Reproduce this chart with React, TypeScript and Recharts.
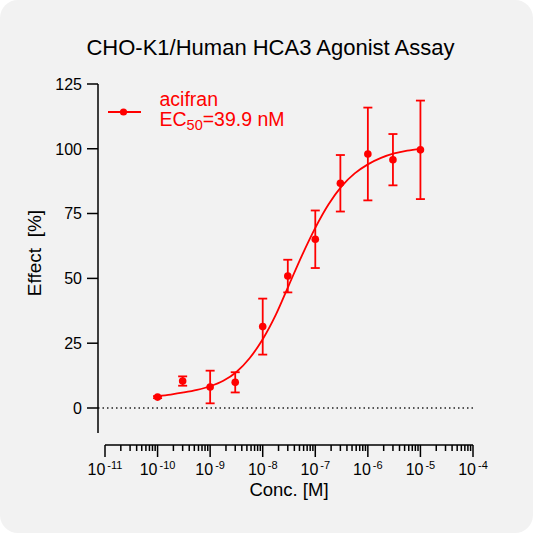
import React from 'react';
import { ComposedChart, Line, Scatter, XAxis, YAxis, ErrorBar, ReferenceLine, Legend } from 'recharts';

const RED = '#ff0000';
const INK = '#000000';
const FONT = '"Liberation Sans", Arial, Helvetica, sans-serif';

// measured points (mean ± SD)
const doseConc = [1e-10, 3e-10, 1e-9, 3e-9, 1e-8, 3e-8, 1e-7, 3e-7, 1e-6, 3e-6, 1e-5];
const doseEffect = [4.2, 10.4, 8.1, 9.9, 31.4, 50.9, 65.1, 86.7, 98.0, 95.8, 99.6];
const doseSd = [0.4, 1.8, 6.3, 3.9, 10.8, 6.3, 11.1, 10.9, 17.9, 9.9, 19.0];

// fitted curve at quarter-decade steps
const fitConc = [
  1e-10, 1.78e-10, 3.16e-10, 5.62e-10, 1e-9, 1.78e-9, 3.16e-9, 5.62e-9, 1e-8, 1.78e-8, 3.16e-8,
  5.62e-8, 1e-7, 1.78e-7, 3.16e-7, 5.62e-7, 1e-6, 1.78e-6, 3.16e-6, 5.62e-6, 1e-5,
];
const fitEffect = [
  4.6, 5.2, 6.0, 7.0, 8.4, 10.5, 13.9, 19.2, 26.5, 36.0, 47.5,
  59.0, 69.5, 78.5, 85.5, 90.5, 94.0, 96.5, 98.2, 99.3, 100.0,
];

const xMajor = [1e-11, 1e-10, 1e-9, 1e-8, 1e-7, 1e-6, 1e-5, 1e-4];
const xMajorExp = ['-11', '-10', '-9', '-8', '-7', '-6', '-5', '-4'];
const xMinorSteps = [2, 3, 4, 5, 6, 7, 8, 9];
const yTicks = [0, 25, 50, 75, 100, 125];

const seriesName = 'acifran';
const ec50Text = '=39.9 nM';

const points = doseConc.map((conc, i) => ({ conc, effect: doseEffect[i], sd: doseSd[i] }));
const fit = fitConc.map((conc, i) => ({ conc, effect: fitEffect[i] }));

const xTicks = [
  ...xMajor,
  ...xMajor.slice(0, -1).flatMap((m) => xMinorSteps.map((s) => s * m)),
].sort((a, b) => a - b);

function majorIndex(v: number) {
  return xMajor.findIndex((m) => Math.abs(v - m) / m < 1e-6);
}

function XTick(props: any) {
  const { x, y, payload } = props;
  const idx = majorIndex(payload.value);
  const major = idx >= 0;
  return (
    <g>
      <line x1={x} x2={x} y1={y} y2={y + (major ? 12 : 6)} stroke={INK} strokeWidth={1.5} />
      {major && (
        <text x={x} y={y + 30} textAnchor="middle" fontFamily={FONT} fill={INK}>
          <tspan fontSize={16}>10</tspan>
          <tspan fontSize={11} dx={2} dy={-6}>{xMajorExp[idx]}</tspan>
        </text>
      )}
    </g>
  );
}

function YTick(props: any) {
  const { x, y, payload } = props;
  return (
    <g>
      <line x1={x - 11} x2={x} y1={y} y2={y} stroke={INK} strokeWidth={1.5} />
      <text x={x - 16} y={y} dy="0.36em" textAnchor="end" fontSize={16} fontFamily={FONT} fill={INK}>
        {payload.value}
      </text>
    </g>
  );
}

function XTitle(props: any) {
  const vb = props.viewBox;
  return (
    <text x={vb.x + 7 + (vb.width - 7) / 2} y={vb.y + 51} textAnchor="middle" fontSize={18.5} fontFamily={FONT} fill={INK}>
      Conc. [M]
    </text>
  );
}

function YTitle(props: any) {
  const vb = props.viewBox;
  const cx = vb.x + 3;
  const cy = vb.y + 169;
  return (
    <text
      x={cx}
      y={cy}
      transform={`rotate(-90 ${cx} ${cy})`}
      textAnchor="middle"
      fontSize={19}
      fontFamily={FONT}
      fill={INK}
      style={{ whiteSpace: 'pre' }}
    >
      {'Effect  [%]'}
    </text>
  );
}

function LegendBox() {
  return (
    <svg width={220} height={50} style={{ display: 'block' }}>
      <line x1={8} x2={41} y1={27} y2={27} stroke={RED} strokeWidth={2} />
      <circle cx={23.5} cy={27} r={3.6} fill={RED} />
      <text x={59.5} y={20.5} fontSize={19.5} fontFamily={FONT} fill={RED}>
        {seriesName}
      </text>
      <text x={59.5} y={40.5} fontSize={19.5} fontFamily={FONT} fill={RED}>
        EC
        <tspan fontSize={14.5} dy={4.5}>50</tspan>
        <tspan dy={-4.5}>{ec50Text}</tspan>
      </text>
    </svg>
  );
}

export default function App() {
  return (
    <div style={{ position: 'absolute', left: 0, top: 0, width: 533, height: 533, background: '#ffffff' }}>
      <div
        style={{
          position: 'relative',
          width: 533,
          height: 533,
          borderRadius: 18,
          background: '#f2f2f2',
          overflow: 'hidden',
        }}
      >
        <div
          style={{
            position: 'absolute',
            left: 0,
            top: 37,
            width: 541,
            textAlign: 'center',
            fontFamily: FONT,
            fontSize: 22,
            lineHeight: 1,
            color: INK,
            zIndex: 2,
          }}
        >
          CHO-K1/Human HCA3 Agonist Assay
        </div>
        <ComposedChart width={533} height={533} margin={{ top: 84, right: 60, bottom: 28, left: 38 }}>
          <XAxis
            dataKey="conc"
            type="number"
            scale="log"
            domain={[1e-11, 1e-4]}
            allowDataOverflow
            ticks={xTicks}
            interval={0}
            padding={{ left: 7, right: 0 }}
            height={60}
            tickSize={0}
            tickMargin={0}
            tickLine={false}
            axisLine={{ stroke: INK, strokeWidth: 1.5, strokeDasharray: '0 7 368 1000' }}
            tick={(p: any) => <XTick {...p} />}
            label={{ content: (p: any) => <XTitle {...p} /> }}
          />
          <YAxis
            type="number"
            domain={[0, 125]}
            allowDataOverflow
            ticks={yTicks}
            interval={0}
            padding={{ top: 0, bottom: 37 }}
            width={60}
            tickSize={0}
            tickMargin={0}
            tickLine={false}
            axisLine={{ stroke: INK, strokeWidth: 1.5, strokeDasharray: '349 1000' }}
            tick={(p: any) => <YTick {...p} />}
            label={{ content: (p: any) => <YTitle {...p} /> }}
          />
          <ReferenceLine y={0} stroke="#222" strokeWidth={1.5} strokeDasharray="1.5 3" />
          <Line
            data={fit}
            dataKey="effect"
            type="monotone"
            stroke={RED}
            strokeWidth={1.8}
            dot={false}
            activeDot={false}
            legendType="none"
            isAnimationActive={false}
          />
          <Scatter
            name={seriesName}
            data={points}
            dataKey="effect"
            fill={RED}
            isAnimationActive={false}
            shape={(p: any) => <circle cx={p.cx} cy={p.cy} r={3.8} fill={RED} />}
          >
            <ErrorBar dataKey="sd" direction="y" width={4.5} stroke={RED} strokeWidth={1.8} />
          </Scatter>
          <Legend
            layout="vertical"
            align="center"
            verticalAlign="middle"
            wrapperStyle={{ left: 100, top: 85, width: 220, height: 50 }}
            content={() => <LegendBox />}
          />
        </ComposedChart>
      </div>
    </div>
  );
}
